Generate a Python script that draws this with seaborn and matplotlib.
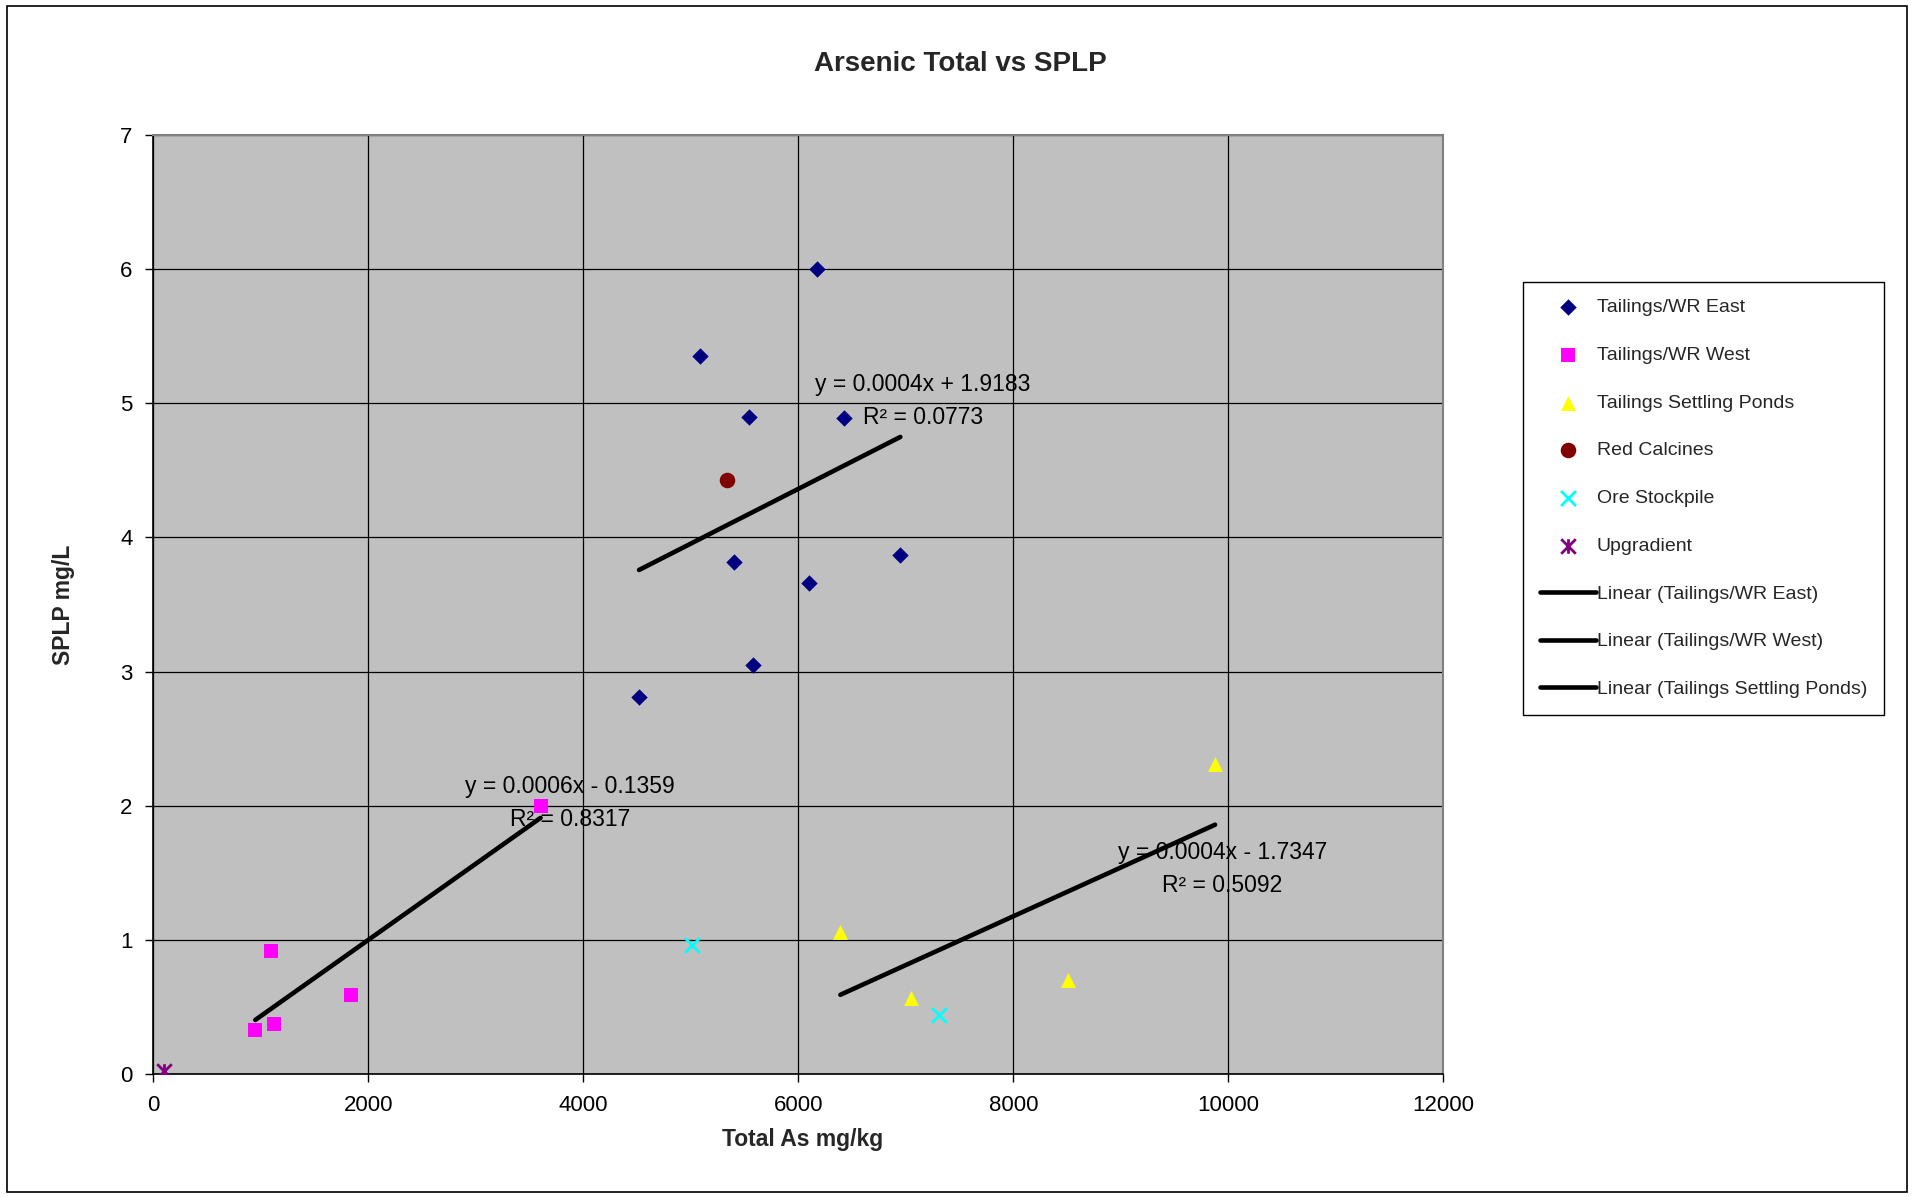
import numpy as np
import pandas as pd
import matplotlib
matplotlib.use("Agg")
import matplotlib.pyplot as plt
from matplotlib.patches import Rectangle
from matplotlib.path import Path
import seaborn as sns

# ---- data ----
east_x = [4518, 5086, 5400, 5542, 5576, 6100, 6171, 6423, 6949]
east_y = [2.81, 5.35, 3.82, 4.90, 3.05, 3.66, 6.00, 4.89, 3.87]
west_x = [948, 1098, 1126, 1837, 3602]
west_y = [0.33, 0.92, 0.37, 0.59, 2.00]
pond_x = [6391, 7048, 8512, 9877]
pond_y = [1.06, 0.57, 0.70, 2.31]
red_x = [5334]
red_y = [4.43]
ore_x = [5012, 7307]
ore_y = [0.96, 0.44]
upg_x = [100]
upg_y = [0.02]

groups = ["Tailings/WR East", "Tailings/WR West", "Tailings Settling Ponds",
          "Red Calcines", "Ore Stockpile", "Upgradient"]
trend_groups = ["Tailings/WR East", "Tailings/WR West", "Tailings Settling Ponds"]
trend_text = ["y = 0.0004x + 1.9183\nR² = 0.0773",
              "y = 0.0006x - 0.1359\nR² = 0.8317",
              "y = 0.0004x - 1.7347\nR² = 0.5092"]
x_ticks = [0, 2000, 4000, 6000, 8000, 10000, 12000]
y_ticks = [0, 1, 2, 3, 4, 5, 6, 7]

frames = []
for name, xs, ys in zip(groups,
                        [east_x, west_x, pond_x, red_x, ore_x, upg_x],
                        [east_y, west_y, pond_y, red_y, ore_y, upg_y]):
    frames.append(pd.DataFrame({"total": xs, "splp": ys, "group": name}))
df = pd.concat(frames, ignore_index=True)

# Excel style "star": an X with a vertical stroke through it
star = Path([(-0.5, -0.5), (0.5, 0.5), (-0.5, 0.5), (0.5, -0.5), (0, -0.5), (0, 0.5)],
            [Path.MOVETO, Path.LINETO, Path.MOVETO, Path.LINETO, Path.MOVETO, Path.LINETO])

# ---- styles ----
colors = {"Tailings/WR East": "#000080", "Tailings/WR West": "#FF00FF",
          "Tailings Settling Ponds": "#FFFF00", "Red Calcines": "#800000",
          "Ore Stockpile": "#00FFFF", "Upgradient": "#800080"}
markers = {"Tailings/WR East": "D", "Tailings/WR West": "s",
           "Tailings Settling Ponds": "^", "Red Calcines": "o",
           "Ore Stockpile": "x", "Upgradient": star}
sizes = {"Tailings/WR East": 70, "Tailings/WR West": 115,
         "Tailings Settling Ponds": 115, "Red Calcines": 125,
         "Ore Stockpile": 115, "Upgradient": 110}
line_markers = ["Ore Stockpile", "Upgradient"]
text_pos = [(7158, 5.02), (3876, 2.02), (9943, 1.53)]

sns.set_theme(style="ticks")
plt.rcParams["font.family"] = ["Liberation Sans", "DejaVu Sans"]

fig = plt.figure(figsize=(19.17, 11.97), dpi=100)
ax = fig.add_axes([0.0800, 0.1028, 0.6729, 0.7843])
ax.set_facecolor("#C0C0C0")

for name in groups:
    sub = df[df["group"] == name]
    if name in line_markers:
        sns.scatterplot(data=sub, x="total", y="splp", ax=ax, color=colors[name],
                        edgecolor=colors[name], marker=markers[name],
                        s=sizes[name], label=name, linewidth=2, zorder=3)
    else:
        sns.scatterplot(data=sub, x="total", y="splp", ax=ax, color=colors[name],
                        marker=markers[name], s=sizes[name], label=name,
                        linewidth=0, zorder=3)

for name, txt, (tx, ty) in zip(trend_groups, trend_text, text_pos):
    sub = df[df["group"] == name]
    sns.regplot(data=sub, x="total", y="splp", ax=ax, scatter=False, ci=None,
                truncate=True, color="black", label=f"Linear ({name})",
                line_kws=dict(lw=3.3, solid_capstyle="round", zorder=4))
    ax.text(tx, ty, txt, ha="center", va="center", ma="center",
            fontsize=16.5, color="black", zorder=5, linespacing=1.55)

ax.set_xlim(0, 12000)
ax.set_ylim(0, 7)
ax.set_xticks(x_ticks)
ax.set_yticks(y_ticks)
ax.grid(True, color="black", lw=0.9, zorder=0)
ax.set_axisbelow(True)
ax.tick_params(axis="both", direction="out", length=6, width=1, colors="black",
               labelsize=16, pad=9)
for side in ["top", "right"]:
    ax.spines[side].set_color("#808080")
    ax.spines[side].set_linewidth(1.5)
for side in ["left", "bottom"]:
    ax.spines[side].set_color("black")
    ax.spines[side].set_linewidth(1.2)

ax.set_xlabel("Total As mg/kg", fontsize=16.5, fontweight="bold")
ax.set_ylabel("SPLP mg/L", fontsize=16.5, fontweight="bold")
ax.xaxis.set_label_coords(0.503, -0.058)
ax.yaxis.set_label_coords(-0.061, 0.5)

fig.text(0.5008, 0.9465, "Arsenic Total vs SPLP", ha="center", va="center",
         fontsize=20, fontweight="bold")

handles, labels = ax.get_legend_handles_labels()
leg = ax.legend(handles, labels, loc="upper left", bbox_to_anchor=(0.7945, 0.7644),
                bbox_transform=fig.transFigure, frameon=True, fancybox=False,
                edgecolor="black", framealpha=1, facecolor="white", fontsize=14,
                handlelength=2.9, handletextpad=0.05, labelspacing=1.55,
                borderpad=0.85, borderaxespad=0)
leg.get_frame().set_linewidth(1)

# outer chart border
fig.patches.append(Rectangle((7 / 1917, 1 - 1192 / 1197), 1900 / 1917, 1186 / 1197,
                             transform=fig.transFigure, fill=False,
                             ec="black", lw=1.2))

fig.savefig("out.png", dpi=100, facecolor="white")
